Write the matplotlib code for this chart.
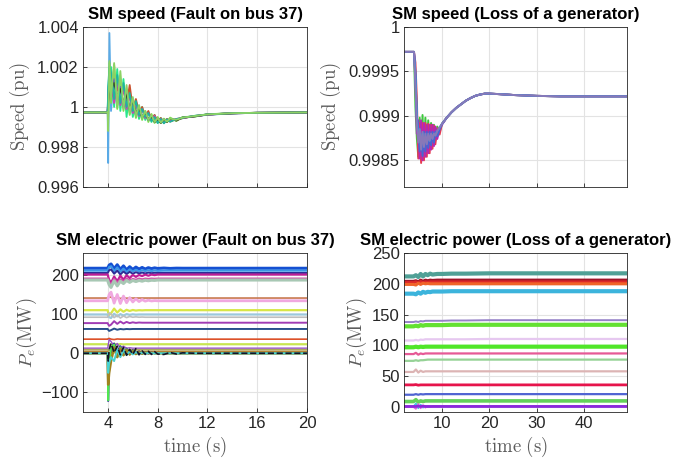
import numpy as np
import matplotlib.pyplot as plt

plt.rcParams['mathtext.fontset'] = 'cm'
plt.rcParams['font.family'] = ['Liberation Sans', 'DejaVu Sans']

# ---------------- speed, fault on bus 37 (deviation from 1 pu, x1e-4) ----------------
t_sp_fault = [2.0, 3.98, 4.02, 4.12, 4.25, 4.5, 4.75, 5.0, 5.25, 5.5, 5.75, 6.0, 6.25, 6.5,
              6.75, 7.0, 7.25, 7.5, 7.75, 8.0, 8.25, 8.5, 8.75, 9.0, 9.5, 10.0, 11.0, 12.0,
              14.0, 16.0, 18.0, 20.0]
sp_fault_colors = ['#5aaae6', '#7ddc50', '#28e68c', '#c8502d', '#5a3cc8', '#d23cb4',
                   '#3c3c1e', '#1eb4a0', '#8cd264']
sp_fault = [
    [-2.7, -2.7, -28, 37, -2, 16, 0, 11, 1, 7, -1, 3, -3, 0, -4.5, -3, -6, -4.5, -7, -5.5,
     -7.5, -6, -7.2, -5.8, -6.5, -5.2, -4.6, -3.9, -3.2, -2.9, -2.8, -2.7],
    [-2.7, -2.7, -5, 22, 2, 21, -1, 13, -2, 8, -4, 3, -5.5, 0, -6.5, -2, -7.5, -3.5, -8, -5,
     -8, -5.8, -7.6, -5.3, -7, -5, -4.8, -3.6, -3.1, -2.9, -2.8, -2.7],
    [-2.7, -2.7, 8, 18, 20, 0, 19, -2, 14, -5, 8, -5, 3, -6, 0, -6.5, -2.5, -7.5, -4, -8,
     -5.5, -8, -6, -7, -6.2, -5.6, -4.4, -3.8, -3.1, -2.9, -2.8, -2.7],
    [-2.7, -2.7, 2, 8, 12, 4, 10, 3, 9, 1, 11, -1, 4, -3, 0, -5, -2, -6.5, -4, -7.5,
     -5.5, -8, -6, -7.3, -6, -5.6, -4.5, -3.8, -3.1, -2.9, -2.8, -2.7],
    [-2.7, -2.7, 4, 12, 6, 14, 3, 10, 0, 7, -2, 3, -4, -1, -5, -3, -6.5, -5, -7, -6,
     -7.5, -6.3, -7, -6.2, -6.4, -5.4, -4.6, -3.8, -3.2, -2.9, -2.8, -2.7],
    [-2.7, -2.7, 6, 15, 16, 2, 14, 1, 10, -1, 6, -3, 2, -4.5, -1, -5.5, -3, -6.5, -4.5, -7.5,
     -6, -7.6, -6.3, -7, -6, -5.5, -4.5, -3.8, -3.1, -2.9, -2.8, -2.7],
    [-2.7, -2.7, 3, 10, 8, 12, 5, 9, 2, 6, -1, 3, -3, -1, -5, -3.5, -6, -5, -7.5, -6.5,
     -8, -6.5, -7.5, -6, -6.8, -5.3, -4.7, -3.7, -3.2, -2.9, -2.8, -2.7],
    [-2.7, -2.7, 10, 20, 17, 4, 16, 2, 12, 0, 7, -2, 3, -4, -1, -5, -3, -7, -5, -8,
     -6, -8.2, -6.2, -7.4, -6, -5.4, -4.4, -3.7, -3.1, -2.9, -2.8, -2.7],
    [-2.7, -2.7, -12, 23, 5, 22, 1, 18, -1, 11, -3, 5, -4.5, 1, -5.5, -2, -6.5, -4, -7.5, -5.5,
     -7.8, -6, -7.3, -5.8, -6.4, -5.3, -4.5, -3.7, -3.1, -2.9, -2.8, -2.7],
]

# ---------------- speed, loss of a generator (deviation from 1 pu, x1e-4) ----------------
t_sp_loss = [2, 4.1, 4.4, 4.7, 5.0, 5.3, 5.6, 5.9, 6.2, 6.5, 6.8, 7.1, 7.4, 7.7, 8.0, 8.3,
             8.6, 9.0, 9.5, 10, 11, 12, 13, 14, 15, 16, 17, 18, 19, 20, 22, 25, 30, 35,
             40, 45, 49]
sp_loss_tail = [-10.2, -9.6, -9.1, -8.7, -8.3, -8.0, -7.75, -7.6, -7.5, -7.5, -7.55, -7.65,
                -7.75, -7.8, -7.8, -7.8, -7.8]
sp_loss_colors = ['#3cc83c', '#e63c50', '#b428b4', '#4666d2', '#2aa0e0', '#8878b8']
sp_loss_head = [
    [-2.8, -2.8, -9, -12.5, -14.6, -10.2, -14.4, -9.9, -14.2, -10.2, -13.8, -10.5, -13.4, -10.8,
     -13.2, -11, -12.8, -11.2, -11.8, -10.9],
    [-2.8, -2.8, -4, -8, -14.8, -10.8, -15.3, -10.8, -15, -10.8, -14.6, -10.9, -14.2, -11,
     -13.7, -11.1, -13.2, -11.4, -12.1, -10.9],
    [-2.8, -2.8, -6, -12, -10.5, -14.8, -10.5, -15, -10.8, -14.6, -11, -14.2, -11, -13.8,
     -11, -13.4, -11.2, -12.6, -11.5, -11.0],
    [-2.8, -2.8, -5, -10, -11.5, -14, -12, -14.5, -11.8, -14, -11.8, -13.6, -11.8, -13.3,
     -11.8, -13, -11.8, -12.3, -11.5, -10.9],
    [-2.8, -2.8, -5.5, -10, -12.5, -11.5, -13.3, -12, -13.2, -12.3, -13, -12.2, -12.8, -12.1,
     -12.5, -12, -12.2, -11.7, -11.3, -10.9],
    [-2.8, -2.8, -6.5, -11, -13, -11.5, -13.8, -11.8, -13.5, -12, -13.2, -12, -12.8, -12,
     -12.6, -12, -12.2, -11.7, -11.3, -10.9],
]

# ---------------- electric power, fault on bus 37 (MW) ----------------
t_pe_fault = [2, 3.98, 4.02, 4.1, 4.25, 4.5, 4.75, 5.0, 5.25, 5.5, 5.75, 6.0, 6.25, 6.5,
              6.75, 7.0, 7.25, 7.5, 7.75, 8.0, 8.5, 9.0, 9.5, 10, 11, 12, 14, 16, 20]
pe_fault_colors = ['#1450d2', '#3c96e6', '#2d2d96', '#be1e96', '#d250aa', '#a8c8b4',
                   '#c87850', '#f0a8e0', '#d7e646', '#9cc8dc', '#bebebe', '#a03cb4',
                   '#28508c', '#dc5028', '#c8e650', '#9650c8', '#aaaa5a', '#b48232',
                   '#3232a0', '#50e650', '#a0821e', '#46d2d2', '#141428']
pe_fault_widths = [2.2, 1.6, 1.4, 1.6, 1.4, 2.2, 1.2, 2.0, 1.6, 1.6, 1.2, 1.4, 1.4, 1.2,
                   1.6, 1.0, 1.2, 1.4, 1.4, 1.4, 1.8, 1.4, 1.2]
pe_fault = [
    [217, 217, 219, 225, 228, 216, 226, 214, 223, 213, 221, 214, 220, 215, 219, 215, 218.5,
     216, 218, 216.5, 217.5, 216.5, 217.2, 217, 217, 217, 217, 217, 217],
    [211, 211, 214, 220, 222, 209, 219, 208, 216, 207, 214, 209, 213, 209, 212, 210, 212,
     210, 211.5, 210.5, 211, 211, 211, 211, 211, 211, 211, 211, 211],
    [205, 205, 207, 212, 214, 203, 211, 201, 209, 202, 208, 203, 207, 204, 206, 204, 206,
     204.5, 205.5, 205, 205, 205, 205, 205, 205, 205, 205, 205, 205],
    [201, 201, 196, 188, 180, 196, 184, 198, 188, 199, 192, 200, 195, 200, 197, 201, 198,
     201, 199.5, 201, 201, 201, 201, 201, 201, 201, 201, 201, 201],
    [191, 191, 188, 182, 176, 190, 181, 189, 184, 191, 186, 190, 188, 191, 189, 191, 190,
     191, 190.5, 191, 191, 191, 191, 191, 191, 191, 191, 191, 191],
    [187, 187, 182, 175, 168, 185, 172, 184, 178, 186, 181, 186, 183, 186, 184, 186.5, 185,
     186.5, 186, 187, 187, 187, 187, 187, 187, 187, 187, 187, 187],
    [141, 141, 142, 144, 143, 140, 142, 140, 141.5, 140.5, 141, 141, 141, 141, 141, 141, 141,
     141, 141, 141, 141, 141, 141, 141, 141, 141, 141, 141, 141],
    [134, 134, 140, 150, 156, 128, 150, 127, 146, 129, 142, 131, 139, 132, 137, 133, 135.5,
     133.5, 134.5, 134, 134, 134, 134, 134, 134, 134, 134, 134, 134],
    [110, 110, 104, 98, 102, 114, 104, 112, 106, 111, 108, 110.5, 109, 110, 109.5, 110, 110,
     110, 110, 110, 110, 110, 110, 110, 110, 110, 110, 110, 110],
    [99, 99, 96, 92, 90, 101, 94, 100, 96, 100, 98, 99.5, 98.5, 99, 99, 99, 99, 99, 99, 99,
     99, 99, 99, 99, 99, 99, 99, 99, 99],
    [92, 92, 96, 103, 100, 91, 97, 90, 95, 91, 94, 92, 93, 92, 92.5, 92, 92, 92, 92, 92, 92,
     92, 92, 92, 92, 92, 92, 92, 92],
    [77, 77, 74, 70, 73, 82, 75, 81, 76, 80, 77, 79, 77.5, 78.5, 78, 78, 78, 78, 78, 78, 78,
     78, 78, 78, 78, 78, 78, 78, 78],
    [62, 62, 60, 57, 59, 63, 60, 62, 61, 62, 61.5, 62, 62, 62, 62, 62, 62, 62, 62, 62, 62,
     62, 62, 62, 62, 62, 62, 62, 62],
    [36, 36, 37, 38, 36, 35, 36.5, 36, 36, 36, 36, 36, 36, 36, 36, 36, 36, 36, 36, 36, 36,
     36, 36, 36, 36, 36, 36, 36, 36],
    [23, 23, 21, 20, 22, 24, 22, 23.5, 22.5, 23, 23, 23, 23, 23, 23, 23, 23, 23, 23, 23, 23,
     23, 23, 23, 23, 23, 23, 23, 23],
    [13, 13, 20, 35, 30, 18, 25, 14, 18, 13, 14, 13, 13, 13, 13, 13, 13, 13, 13, 13, 13, 13,
     13, 13, 13, 13, 13, 13, 13],
    [9, 9, 8, 7, 8, 10, 9, 9.5, 9, 9, 9, 9, 9, 9, 9, 9, 9, 9, 9, 9, 9, 9, 9, 9, 9, 9, 9, 9, 9],
    [4, 4, 2, 0, 3, 6, 3, 5, 4, 4.5, 4, 4, 4, 4, 4, 4, 4, 4, 4, 4, 4, 4, 4, 4, 4, 4, 4, 4, 4],
    [0, 0, -122, -40, 10, 25, 5, 18, 0, 12, -3, 8, -2, 5, -1, 3, -1, 2, 0, 1, 0, 0, 0, 0,
     0, 0, 0, 0, 0],
    [0, 0, -120, -30, 15, 22, -8, 15, -5, 10, -3, 6, -2, 3, -1, 2, 0, 1, 0, 0, 0, 0, 0, 0,
     0, 0, 0, 0, 0],
    [0, 0, -80, -50, -20, 15, -10, 12, -5, 8, -3, 5, -2, 3, -1, 2, 0, 1, 0, 0, 0, 0, 0, 0,
     0, 0, 0, 0, 0],
    [0, 0, -50, -25, -10, -20, 10, -10, 8, -5, 5, -3, 3, -2, 2, -1, 1, 0, 0, 0, 0, 0, 0, 0,
     0, 0, 0, 0, 0],
    [0, 0, -20, 10, 25, 2, 18, -4, 15, -5, 10, -3, 12, -4, 6, -3, 5, -3, 4, -2, -3, 2, -2,
     1, 0, 0, 0, 0, 0],
]

# ---------------- electric power, loss of a generator (MW) ----------------
t_pe_loss = [2, 4.0, 4.5, 5, 5.5, 6, 6.5, 7, 7.5, 8, 9, 10, 12, 15, 20, 30, 40, 49]
pe_loss_colors = ['#50a096', '#a01428', '#dc2828', '#f06428', '#3cb4dc', '#9682c8',
                  '#64e132', '#e6c8f0', '#50e628', '#e65a96', '#96d296', '#dcb4b4',
                  '#e6144b', '#5064d2', '#64d25a', '#46c8dc', '#dc64dc', '#8c28dc']
pe_loss_widths = [3.0, 2.2, 2.2, 2.2, 3.0, 1.4, 3.0, 1.6, 3.0, 1.6, 1.6, 1.6, 2.0, 1.6,
                  2.6, 1.2, 1.2, 2.0]
pe_loss = [
    [212, 212, 214, 211, 216, 212, 216, 214, 216.5, 215, 216, 216, 216.5, 216.5, 217, 217, 217, 217],
    [204, 204, 205, 203, 206, 204, 206, 205, 206, 205.5, 206, 206, 206, 206, 206, 206, 206, 206],
    [202, 202, 203, 201, 203.5, 202, 203, 202.5, 203, 203, 203, 203, 203, 203, 203, 203, 203, 203],
    [199, 199, 198, 201, 199, 201, 200, 200.5, 200, 200, 200, 200, 200, 200, 200, 200, 200, 200],
    [184, 184, 183, 186, 184, 187, 185.5, 187, 186.5, 187.5, 187.5, 187.5, 188, 188, 188, 188, 188, 188],
    [138, 138, 139, 138, 139.5, 139, 140, 140, 140, 140, 140, 140, 140.5, 140.5, 141, 141, 141, 141],
    [131, 131, 132, 131, 133, 132, 133, 133, 133, 133, 133, 133, 133.5, 133.5, 133.5, 133.5, 133.5, 133.5],
    [108, 108, 109, 108, 109.5, 109, 110, 110, 110, 110, 110, 110, 110, 110, 110.5, 110.5, 110.5, 110.5],
    [97, 97, 98, 97, 98, 97.5, 98, 98, 98, 98, 98, 98, 98, 98, 98, 98, 98, 98],
    [86, 86, 88, 85, 87, 86, 87, 87, 87, 87, 87, 87, 87, 87, 87, 87, 87, 87],
    [75, 75, 76, 75, 76, 76, 76.5, 77, 77, 77, 77, 77, 77, 77, 77, 77, 77, 77],
    [57, 57, 61, 56, 59, 57, 58, 58, 58, 58, 58, 58, 58, 58, 58, 58, 58, 58],
    [36, 36, 36.5, 35.5, 36, 36, 36, 36, 36, 36, 36, 36, 36, 36, 36, 36, 36, 36],
    [20, 20, 21, 20, 21, 20.5, 21, 21, 21, 21, 21, 21, 21, 21, 21, 21, 21, 21],
    [9, 9, 12, 8, 10, 9, 10, 10, 10, 10, 10, 10, 10, 10, 10, 10, 10, 10],
    [1, 1, 6, -2, 4, -1, 2, 0, 1, 1, 1, 1, 1, 1, 1, 1, 1, 1],
    [0, 0, -3, 5, -2, 3, -1, 2, 0, 1, 1, 1, 1, 1, 1, 1, 1, 1],
    [1, 1, 1, 1.5, 1, 1.5, 1, 1, 1, 1, 1, 1, 1, 1, 1, 1, 1, 1],
]

# axis ticks
xt_fault = [4, 8, 12, 16, 20]
xt_loss = [10, 20, 30, 40]
yt_sp_fault = [0.996, 0.998, 1.0, 1.002, 1.004]
yl_sp_fault = ['0.996', '0.998', '1', '1.002', '1.004']
yt_sp_loss = [0.9985, 0.999, 0.9995, 1.0]
yl_sp_loss = ['0.9985', '0.999', '0.9995', '1']
yt_pe_fault = [-100, 0, 100, 200]
yt_pe_loss = [0, 50, 100, 150, 200, 250]

DARK = '#262626'
LABEL = '#5c5c5c'


def style(ax, title):
	ax.set_title(title, fontsize=12, fontweight='bold', color='black', pad=5.5)
	ax.grid(True, color='#e3e3e3', lw=0.8)
	ax.set_axisbelow(True)
	ax.tick_params(direction='in', length=3, width=0.6, color=DARK, labelcolor=DARK,
	               labelsize=12, pad=3)
	for s in ax.spines.values():
		s.set_color(DARK)
		s.set_linewidth(0.6)


fig = plt.figure(figsize=(6.89, 4.59), dpi=100)
ax1 = fig.add_axes([0.1205, 0.5926, 0.3251, 0.3486])
ax2 = fig.add_axes([0.5864, 0.5926, 0.3237, 0.3486])
ax3 = fig.add_axes([0.1205, 0.1024, 0.3251, 0.3464])
ax4 = fig.add_axes([0.5864, 0.1024, 0.3237, 0.3464])

# top left
for c, d in zip(sp_fault_colors, sp_fault):
	ax1.plot(t_sp_fault, 1 + np.array(d) * 1e-4, color=c, lw=1.3)
ax1.set_xlim(2, 20)
ax1.set_ylim(0.996, 1.004)
ax1.set_xticks(xt_fault)
ax1.set_xticklabels([])
ax1.set_yticks(yt_sp_fault)
ax1.set_yticklabels(yl_sp_fault)
ax1.set_ylabel(r'$\mathrm{Speed\ (pu)}$', fontsize=13.5, color=LABEL, labelpad=4)
style(ax1, 'SM speed (Fault on bus 37)')

# top right
for c, h in zip(sp_loss_colors, sp_loss_head):
	ax2.plot(t_sp_loss, 1 + np.array(h + sp_loss_tail) * 1e-4, color=c, lw=1.4)
ax2.set_xlim(2, 49)
ax2.set_ylim(0.9982, 1.0)
ax2.set_xticks(xt_loss)
ax2.set_xticklabels([])
ax2.set_yticks(yt_sp_loss)
ax2.set_yticklabels(yl_sp_loss)
ax2.set_ylabel(r'$\mathrm{Speed\ (pu)}$', fontsize=13.5, color=LABEL, labelpad=4)
style(ax2, 'SM speed (Loss of a generator)')

# bottom left
for c, w, d in zip(pe_fault_colors, pe_fault_widths, pe_fault):
	ls = '--' if c == '#141428' else '-'
	ax3.plot(t_pe_fault, d, color=c, lw=w, ls=ls)
ax3.set_xlim(2, 20)
ax3.set_ylim(-150, 256)
ax3.set_xticks(xt_fault)
ax3.set_yticks(yt_pe_fault)
ax3.set_ylabel(r'$P_e\mathrm{(MW)}$', fontsize=13.5, color=LABEL, labelpad=2)
ax3.set_xlabel(r'$\mathrm{time\ (s)}$', fontsize=13.5, color=LABEL, labelpad=3)
style(ax3, 'SM electric power (Fault on bus 37)')

# bottom right
for c, w, d in zip(pe_loss_colors, pe_loss_widths, pe_loss):
	ax4.plot(t_pe_loss, d, color=c, lw=w)
ax4.set_xlim(2, 49)
ax4.set_ylim(-8, 250)
ax4.set_xticks(xt_loss)
ax4.set_yticks(yt_pe_loss)
ax4.set_ylabel(r'$P_e\mathrm{(MW)}$', fontsize=13.5, color=LABEL, labelpad=2)
ax4.set_xlabel(r'$\mathrm{time\ (s)}$', fontsize=13.5, color=LABEL, labelpad=3)
style(ax4, 'SM electric power (Loss of a generator)')

fig.savefig('out.png', dpi=100)
